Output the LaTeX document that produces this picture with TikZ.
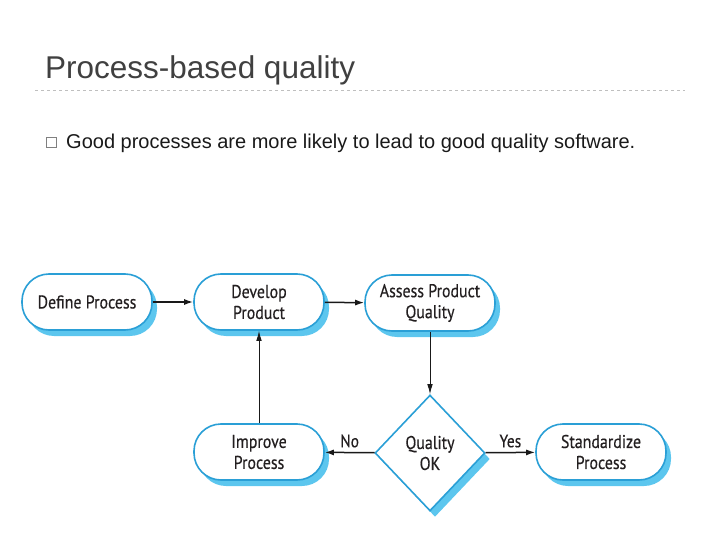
\documentclass[tikz,border=0pt]{standalone}
\usepackage{fontspec}
\setmainfont{Liberation Sans}
\newfontfamily\nodefont[FakeStretch=0.86,FakeBold=0.4]{PT Sans}
\usetikzlibrary{shapes.geometric,shadows,arrows.meta}
\definecolor{edgeblue}{HTML}{2A9FD6}
\definecolor{shadowblue}{HTML}{5CC6EE}
\definecolor{titlegray}{HTML}{404040}
\definecolor{inkdark}{HTML}{231F20}
\tikzset{
  pill/.style={draw=edgeblue, line width=1.6pt, fill=white, rectangle,
    rounded corners=27pt, minimum width=130pt, minimum height=56pt,
    align=center, text=inkdark, font=\nodefont\fontsize{18.5}{21}\selectfont,
    drop shadow={shadow xshift=5pt, shadow yshift=-6pt, fill=shadowblue, opacity=1}},
  decision/.style={draw=edgeblue, line width=1.6pt, fill=white, diamond,
    minimum width=110pt, minimum height=116pt, inner sep=0pt, align=center,
    text=inkdark, font=\nodefont\fontsize{18.5}{21}\selectfont,
    drop shadow={shadow xshift=5pt, shadow yshift=-6pt, fill=shadowblue, opacity=1}},
  flow/.style={draw=black!90, line width=1.5pt, -{Latex[length=9pt,width=6pt]}},
  thinflow/.style={draw=black!90, line width=0.9pt, -{Latex[length=10pt,width=5.5pt]}},
  edgelabel/.style={text=inkdark, font=\nodefont\fontsize{18}{19}\selectfont}
}
\begin{document}
\begin{tikzpicture}[x=1pt,y=-1pt]
\useasboundingbox (0,0) rectangle (720,540);
\node[anchor=base west, text=titlegray, font=\fontsize{31.5}{36}\selectfont, inner sep=0pt] (title) at (45,79) {Process-based quality};
\draw[draw=black!25, dashed, line width=0.7pt] (35,90) -- (685,90);
\draw[draw=black!50, line width=0.6pt] (46.5,137.5) rectangle (56.5,147.5);
\node[anchor=base west, text=black!90, font=\fontsize{20}{24}\selectfont, inner sep=0pt] (bullet) at (66,149) {Good processes are more likely to lead to good quality software.};

\node[pill] (define) at (87,302) {Define Process};
\node[pill] (develop) at (259,302) {Develop\\Product};
\node[pill] (assess) at (430,303) {Assess Product\\Quality};
\node[pill] (improve) at (259,452) {Improve\\Process};
\node[decision] (ok) at (430,453) {Quality\\OK};
\node[pill] (standard) at (601,452) {Standardize\\Process};

\draw[flow] (define) -- (develop);
\draw[flow] (develop) -- (assess);
\draw[thinflow] (assess) -- (ok);
\draw[flow] (ok) -- node[edgelabel, above=1pt] (nolab) {No} (improve);
\draw[flow] (ok) -- node[edgelabel, above=1pt] (yeslab) {Yes} (standard);
\draw[thinflow] (improve) -- (develop);
\end{tikzpicture}
\end{document}
